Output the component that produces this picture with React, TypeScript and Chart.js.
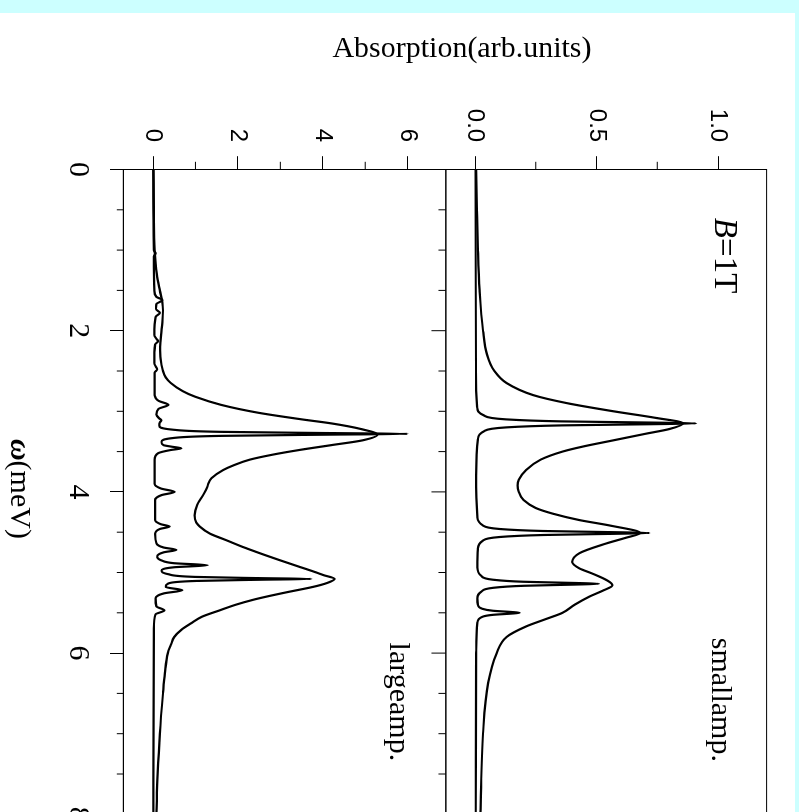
import React, { useEffect, useRef } from 'react';
import { Chart, registerables } from 'chart.js';

Chart.register(...registerables);

// ---------- data ----------
const omegaTicks = [0, 2, 4, 6, 8];
const omegaMinorTicks = [0.5, 1, 1.5, 2.5, 3, 3.5, 4.5, 5, 5.5, 6.5, 7, 7.5];
const smallTicks = [0, 0.5, 1.0];
const smallMinorTicks = [0.25, 0.75];
const largeTicks = [0, 2, 4, 6];
const largeMinorTicks = [1, 3, 5];

const titleY = 'Absorption(arb.units)';
const titleXSymbol = 'ω';
const titleXUnit = '(meV)';
const fieldSymbol = 'B';
const fieldValue = '=1T';
const smallLabel = 'smallamp.';
const largeLabel = 'largeamp.';

// small amplitude, broad curve [ω, absorption]
const smallBroad: [number, number][] = [
  [0, 0.005], [0.5, 0.008], [1.0, 0.012], [1.5, 0.019], [2.0, 0.033], [2.3, 0.05],
  [2.5, 0.08], [2.65, 0.13], [2.8, 0.24], [2.9, 0.38], [3.0, 0.57], [3.08, 0.74],
  [3.15, 0.857], [3.22, 0.8], [3.28, 0.7], [3.36, 0.57], [3.44, 0.44], [3.5, 0.36],
  [3.6, 0.27], [3.73, 0.21], [3.85, 0.18], [3.92, 0.175], [4.0, 0.18], [4.1, 0.2],
  [4.2, 0.25], [4.27, 0.32], [4.35, 0.43], [4.42, 0.56], [4.51, 0.68], [4.57, 0.62],
  [4.64, 0.54], [4.76, 0.43], [4.87, 0.4], [4.95, 0.43], [5.01, 0.48], [5.1, 0.545],
  [5.16, 0.565], [5.22, 0.53], [5.3, 0.47], [5.4, 0.41], [5.5, 0.36], [5.58, 0.29],
  [5.67, 0.21], [5.8, 0.13], [6.0, 0.089], [6.37, 0.054], [7.0, 0.033], [8.0, 0.022],
];

// small amplitude, sharp curve
const smallSharp: [number, number][] = [
  [0, 0.002], [2.5, 0.004], [2.95, 0.009], [3.05, 0.036], [3.1, 0.127], [3.125, 0.355],
  [3.14, 0.73], [3.15, 0.91], [3.16, 0.73], [3.175, 0.355], [3.2, 0.127], [3.25, 0.036],
  [3.35, 0.012], [3.8, 0.005], [4.31, 0.01], [4.41, 0.03], [4.46, 0.1], [4.485, 0.28],
  [4.5, 0.575], [4.51, 0.718], [4.52, 0.575], [4.535, 0.28], [4.56, 0.1], [4.61, 0.03],
  [4.71, 0.012], [4.94, 0.01], [5.04, 0.025], [5.09, 0.075], [5.115, 0.2], [5.13, 0.41],
  [5.14, 0.51], [5.15, 0.41], [5.165, 0.2], [5.19, 0.075], [5.24, 0.025], [5.32, 0.01],
  [5.4, 0.012], [5.45, 0.03], [5.475, 0.075], [5.49, 0.15], [5.5, 0.184], [5.51, 0.15],
  [5.525, 0.075], [5.55, 0.03], [5.62, 0.01], [6.0, 0.005], [8.0, 0.003],
];

// large amplitude, broad curve
const largeBroad: [number, number][] = [
  [0, 0.01], [0.5, 0.02], [1.0, 0.04], [1.3, 0.09], [1.5, 0.16], [1.65, 0.22],
  [1.75, 0.235], [1.9, 0.22], [2.05, 0.19], [2.2, 0.17], [2.35, 0.18], [2.49, 0.23],
  [2.58, 0.3], [2.65, 0.42], [2.75, 0.7], [2.82, 1.0], [2.92, 1.6], [3.02, 2.5],
  [3.1, 3.5], [3.15, 4.2], [3.22, 4.9], [3.29, 5.29], [3.36, 4.94], [3.42, 4.2],
  [3.48, 3.45], [3.54, 2.8], [3.6, 2.28], [3.67, 1.9], [3.73, 1.65], [3.83, 1.38],
  [3.9, 1.3], [3.94, 1.28], [4.04, 1.18], [4.16, 1.04], [4.29, 0.98], [4.38, 1.02],
  [4.43, 1.1], [4.52, 1.35], [4.6, 1.73], [4.68, 2.1], [4.76, 2.51], [4.85, 3.0],
  [4.93, 3.45], [5.0, 3.85], [5.03, 4.0], [5.08, 4.28], [5.13, 4.1], [5.18, 3.76],
  [5.24, 3.2], [5.3, 2.67], [5.34, 2.35], [5.4, 1.95], [5.47, 1.57], [5.55, 1.15],
  [5.63, 0.9], [5.71, 0.67], [5.8, 0.5], [5.9, 0.42], [6.0, 0.35], [6.25, 0.28],
  [6.5, 0.235], [7.0, 0.16], [7.5, 0.11], [8.0, 0.08],
];

// large amplitude, sharp curve
const largeSharp: [number, number][] = [
  [0, 0.01], [1.0, 0.02], [1.04, 0.06], [1.08, 0.02], [1.5, 0.03], [1.58, 0.08],
  [1.62, 0.22], [1.67, 0.08], [1.73, 0.07], [1.78, 0.16], [1.83, 0.06], [2.05, 0.03],
  [2.1, 0.08], [2.13, 0.12], [2.17, 0.05], [2.4, 0.03], [2.45, 0.07], [2.48, 0.1],
  [2.52, 0.04], [2.8, 0.04], [2.87, 0.13], [2.92, 0.36], [2.97, 0.13], [3.04, 0.08],
  [3.09, 0.15], [3.11, 0.2], [3.14, 0.16], [3.18, 0.15], [3.23, 0.5], [3.255, 1.6],
  [3.27, 4.1], [3.28, 6.0], [3.29, 4.1], [3.305, 1.6], [3.33, 0.5], [3.38, 0.2],
  [3.42, 0.25], [3.44, 0.45], [3.46, 0.67], [3.48, 0.42], [3.52, 0.12], [3.6, 0.04],
  [3.9, 0.04], [3.96, 0.2], [4.0, 0.51], [4.04, 0.2], [4.1, 0.05], [4.35, 0.05],
  [4.4, 0.18], [4.43, 0.39], [4.46, 0.16], [4.52, 0.05], [4.64, 0.08], [4.69, 0.25],
  [4.72, 0.55], [4.75, 0.25], [4.8, 0.1], [4.85, 0.2], [4.885, 0.5], [4.91, 1.29],
  [4.935, 0.5], [4.98, 0.2], [5.02, 0.35], [5.055, 1.0], [5.07, 2.5], [5.08, 3.73],
  [5.09, 2.5], [5.105, 1.0], [5.14, 0.35], [5.18, 0.3], [5.22, 0.69], [5.26, 0.25],
  [5.32, 0.06], [5.42, 0.08], [5.47, 0.27], [5.52, 0.06], [5.7, 0.02], [8.0, 0.01],
];

// ---------- layout (original, un-rotated orientation) ----------
const W0 = 830;
const H0 = 795;
const SERIF = '"Liberation Serif", "Times New Roman", Times, serif';
const SANS = '"Liberation Sans", Arial, Helvetica, sans-serif';

const toXY = (arr: [number, number][]) => arr.map(([x, y]) => ({ x, y }));

const framePlugin = {
  id: 'frame',
  afterDraw(chart: any) {
    const ctx: CanvasRenderingContext2D = chart.ctx;
    const xs = chart.scales.x;
    const yS = chart.scales.yS;
    const yL = chart.scales.yL;
    const { left, right } = chart.chartArea;
    ctx.save();
    ctx.strokeStyle = '#000';
    ctx.lineWidth = 1;
    ctx.strokeRect(left, yS.top, right - left, yS.bottom - yS.top);
    ctx.strokeRect(left, yL.top, right - left, yL.bottom - yL.top);
    ctx.beginPath();
    for (const v of omegaMinorTicks) {
      const px = xs.getPixelForValue(v);
      ctx.moveTo(px, yL.bottom);
      ctx.lineTo(px, yL.bottom + 6.5);
      ctx.moveTo(px, yS.bottom);
      ctx.lineTo(px, yS.bottom + 7.4);
    }
    for (const v of omegaTicks) {
      const px = xs.getPixelForValue(v);
      ctx.moveTo(px, yS.bottom);
      ctx.lineTo(px, yS.bottom + 14.4);
    }
    for (const v of largeMinorTicks) {
      const py = yL.getPixelForValue(v);
      ctx.moveTo(left, py);
      ctx.lineTo(left - 7.7, py);
    }
    for (const v of smallMinorTicks) {
      const py = yS.getPixelForValue(v);
      ctx.moveTo(left, py);
      ctx.lineTo(left - 7.7, py);
    }
    ctx.stroke();

    ctx.fillStyle = '#000';
    ctx.textBaseline = 'alphabetic';

    // y title (vertical)
    ctx.save();
    ctx.font = `30px ${SERIF}`;
    ctx.translate(44, (yS.top + yL.bottom) / 2 - 17);
    ctx.rotate(-Math.PI / 2);
    ctx.textAlign = 'center';
    ctx.fillText(titleY, 0, 0);
    ctx.restore();

    // x title
    ctx.textAlign = 'left';
    ctx.font = `italic bold 30px ${SERIF}`;
    const w1 = ctx.measureText(titleXSymbol).width;
    ctx.font = `30px ${SERIF}`;
    const w2 = ctx.measureText(titleXUnit).width;
    const cx = xs.getPixelForValue(4) - 3;
    const sx = cx - (w1 + w2) / 2;
    ctx.font = `italic bold 30px ${SERIF}`;
    ctx.fillText(titleXSymbol, sx, 784);
    ctx.font = `30px ${SERIF}`;
    ctx.fillText(titleXUnit, sx + w1, 784);

    // B=1T
    const bx = xs.getPixelForValue(0.6);
    ctx.font = `italic 33px ${SERIF}`;
    const wb = ctx.measureText(fieldSymbol).width;
    ctx.fillText(fieldSymbol, bx, 80);
    ctx.font = `33px ${SERIF}`;
    ctx.fillText(fieldValue, bx + wb, 80);

    // panel labels
    ctx.font = `30px ${SERIF}`;
    ctx.fillText(smallLabel, xs.getPixelForValue(5.81), 83);
    ctx.fillText(largeLabel, xs.getPixelForValue(5.87), 405);
    ctx.restore();
  },
};

export default function App() {
  const ref = useRef<HTMLCanvasElement | null>(null);

  useEffect(() => {
    const canvas = ref.current;
    if (!canvas) return;
    const line = (arr: [number, number][], yAxisID: string) => ({
      data: toXY(arr),
      yAxisID,
      xAxisID: 'x',
      showLine: true,
      borderColor: '#000',
      backgroundColor: '#000',
      borderWidth: 2.2,
      pointRadius: 0,
      pointHoverRadius: 0,
      fill: false,
      cubicInterpolationMode: 'monotone' as const,
    });
    const tickCommon = {
      drawOnChartArea: false,
      drawTicks: true,
      tickLength: 13.3,
      color: '#000',
      lineWidth: 1,
    };
    const chart = new Chart(canvas, {
      type: 'scatter',
      data: {
        datasets: [
          line(smallBroad, 'yS'),
          line(smallSharp, 'yS'),
          line(largeBroad, 'yL'),
          line(largeSharp, 'yL'),
        ],
      },
      options: {
        responsive: false,
        animation: false,
        devicePixelRatio: 1,
        events: [],
        layout: { padding: { top: 26.7, right: W0 - 801.3, left: 0, bottom: 0 } },
        plugins: { legend: { display: false }, tooltip: { enabled: false }, title: { display: false } },
        scales: {
          x: {
            type: 'linear',
            position: 'bottom',
            min: 0,
            max: 8,
            afterBuildTicks: (s: any) => { s.ticks = omegaTicks.map((v) => ({ value: v })); },
            afterFit: (s: any) => { s.height = H0 - 671.7; },
            grid: tickCommon,
            border: { display: true, color: '#000', width: 1 },
            ticks: {
              font: { family: SERIF, size: 30 },
              color: '#000',
              padding: 14,
              maxRotation: 0,
              minRotation: 0,
              autoSkip: false,
              callback: (v: any) => String(v),
            },
          },
          yL: {
            type: 'linear',
            position: 'left',
            stack: 'panels',
            stackWeight: 323.4,
            min: -0.7,
            max: 6.9,
            afterBuildTicks: (s: any) => { s.ticks = largeTicks.map((v) => ({ value: v })); },
            afterFit: (s: any) => { s.width = 156.5; },
            grid: tickCommon,
            border: { display: true, color: '#000', width: 1 },
            ticks: {
              font: { family: SANS, size: 24 },
              color: '#000',
              padding: 14,
              autoSkip: false,
              callback: (v: any) => String(v),
            },
          },
          yS: {
            type: 'linear',
            position: 'left',
            stack: 'panels',
            stackWeight: 321.6,
            min: -0.12,
            max: 1.2,
            afterBuildTicks: (s: any) => { s.ticks = smallTicks.map((v) => ({ value: v })); },
            afterFit: (s: any) => { s.width = 156.5; },
            grid: tickCommon,
            border: { display: true, color: '#000', width: 1 },
            ticks: {
              font: { family: SANS, size: 24 },
              color: '#000',
              padding: 14,
              autoSkip: false,
              callback: (v: any) => Number(v).toFixed(1),
            },
          },
        },
      } as any,
      plugins: [framePlugin],
    });
    return () => chart.destroy();
  }, []);

  return (
    <div style={{ position: 'fixed', left: 0, top: 0, width: '100vw', height: '100vh', background: '#ccffff', overflow: 'hidden' }}>
      <div style={{ position: 'absolute', left: 0, top: 13, width: H0, height: W0, background: '#fff', overflow: 'hidden' }}>
        <canvas
          ref={ref}
          width={W0}
          height={H0}
          style={{
            position: 'absolute',
            left: 0,
            top: 0,
            width: W0,
            height: H0,
            transformOrigin: '0 0',
            transform: `translate(${H0}px, 0px) rotate(90deg)`,
          }}
        />
      </div>
    </div>
  );
}
